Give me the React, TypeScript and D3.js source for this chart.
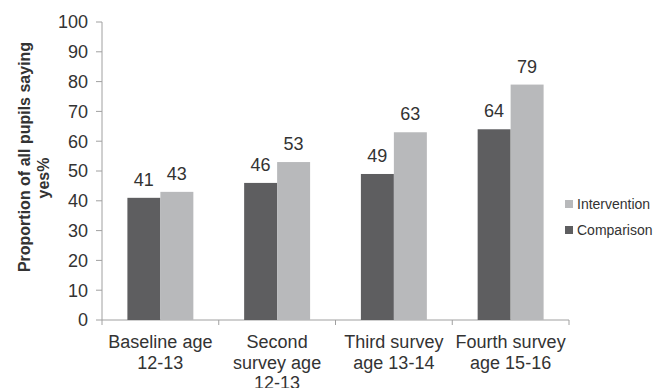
import React from "react";
import * as d3 from "d3";

const categories: string[][] = [
  ["Baseline age", "12-13"],
  ["Second", "survey age", "12-13"],
  ["Third survey", "age 13-14"],
  ["Fourth survey", "age 15-16"],
];
const categoryKeys = ["c1", "c2", "c3", "c4"];
const seriesNames = ["Comparison", "Intervention"];
const comparison = [41, 46, 49, 64];
const intervention = [43, 53, 63, 79];
const yTicks = [0, 10, 20, 30, 40, 50, 60, 70, 80, 90, 100];
const yTitle = ["Proportion of all pupils saying", "yes%"];

const colors: Record<string, string> = {
  Comparison: "#5e5e60",
  Intervention: "#b8b9bb",
};

export default function App() {
  const W = 658;
  const H = 388;
  const left = 102;
  const right = 569;
  const top = 22;
  const bottom = 320;
  const font = "Arial, 'Liberation Sans', Helvetica, sans-serif";
  const textColor = "#333333";
  const axisColor = "#a0a0a0";

  const x0 = d3.scaleBand<string>().domain(categoryKeys).range([left, right]).padding(0);
  const x1 = d3
    .scaleBand<string>()
    .domain(seriesNames)
    .range([0, x0.bandwidth()])
    .paddingInner(0)
    .paddingOuter(0.77);
  const y = d3.scaleLinear().domain([0, 100]).range([bottom, top]);

  const values: Record<string, number[]> = {
    Comparison: comparison,
    Intervention: intervention,
  };

  return (
    <svg
      width={W}
      height={H}
      style={{ position: "absolute", left: 0, top: 0, background: "#fff" }}
      fontFamily={font}
    >
      <rect x={0} y={0} width={W} height={H} fill="#ffffff" />
      {/* y axis */}
      <line x1={left} x2={left} y1={top} y2={bottom} stroke={axisColor} strokeWidth={1} />
      {yTicks.map((t) => (
        <g key={t}>
          <line x1={left - 6} x2={left} y1={y(t)} y2={y(t)} stroke={axisColor} />
          <text
            x={left - 14}
            y={y(t)}
            dy="0.36em"
            textAnchor="end"
            fontSize={18}
            fill={textColor}
          >
            {t}
          </text>
        </g>
      ))}
      {/* x axis */}
      <line x1={left} x2={right} y1={bottom} y2={bottom} stroke={axisColor} />
      {[...categoryKeys.map((k) => x0(k) as number), right].map((xv, i) => (
        <line key={i} x1={xv} x2={xv} y1={bottom} y2={bottom + 5} stroke={axisColor} />
      ))}
      {/* bars */}
      {categoryKeys.map((k, ci) => (
        <g key={k}>
          {seriesNames.map((s) => {
            const v = values[s][ci];
            const bx = (x0(k) as number) + (x1(s) as number);
            return (
              <g key={s}>
                <rect
                  x={bx}
                  y={y(v)}
                  width={x1.bandwidth()}
                  height={bottom - y(v)}
                  fill={colors[s]}
                />
                <text
                  x={bx + x1.bandwidth() / 2}
                  y={y(v) - 12}
                  textAnchor="middle"
                  fontSize={18}
                  fill={textColor}
                >
                  {v}
                </text>
              </g>
            );
          })}
          <text
            x={(x0(k) as number) + x0.bandwidth() / 2}
            y={348}
            textAnchor="middle"
            fontSize={18}
            fill={textColor}
          >
            {categories[ci].map((line, li) => (
              <tspan key={li} x={(x0(k) as number) + x0.bandwidth() / 2} y={348 + li * 20.5}>
                {line}
              </tspan>
            ))}
          </text>
        </g>
      ))}
      {/* y title */}
      <text
        transform="translate(30,157) rotate(-90)"
        textAnchor="middle"
        fontSize={16}
        fontWeight="bold"
        fill={textColor}
      >
        {yTitle[0]}
      </text>
      <text
        transform="translate(49,178) rotate(-90)"
        textAnchor="middle"
        fontSize={16}
        fontWeight="bold"
        fill={textColor}
      >
        {yTitle[1]}
      </text>
      {/* legend */}
      {["Intervention", "Comparison"].map((s, i) => (
        <g key={s} transform={`translate(565,${204 + i * 26})`}>
          <rect x={0} y={-4} width={8} height={8} fill={colors[s]} />
          <text x={12} y={0} dy="0.36em" fontSize={14} fill={textColor}>
            {s}
          </text>
        </g>
      ))}
    </svg>
  );
}
